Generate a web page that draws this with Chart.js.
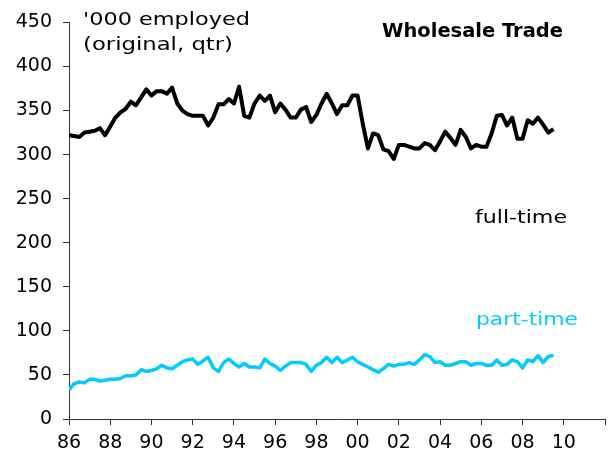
<!DOCTYPE html>
<html>
<head>
<meta charset="utf-8">
<script src="https://cdn.jsdelivr.net/npm/chart.js@4"></script>
<style>
  html, body { margin: 0; padding: 0; background: #fff; }
  #wrap { width: 612px; height: 463px; }
</style>
</head>
<body>
<div id="wrap"><canvas id="grafico" width="612" height="463"></canvas></div>
<script>
// quarterly, starting 1986 Q1
const startYear = 1986;
const fullTime = [322,321,320,325,326,327,330,322,332,342,
  348,352,360,356,365,374,367,372,372,369,
  376,358,350,346,344,344,344,333,342,357,
  357,363,358,377,344,342,358,367,361,367,
  348,358,351,342,342,351,354,337,345,358,
  369,358,346,356,356,367,367,335,307,324,
  322,306,304,295,311,311,309,307,307,313,
  311,305,315,326,319,311,328,320,307,311,
  309,309,324,344,345,333,342,318,318,339,
  335,342,334,325,329];
const partTime = [33,40,42,41,45,45,43,44,45,45,
  46,49,49,50,56,54,55,57,61,58,
  57,61,65,67,68,62,66,70,58,54,
  64,68,63,59,63,59,59,58,68,63,
  60,55,60,64,64,64,62,54,61,64,
  70,64,70,64,67,70,65,62,59,56,
  53,57,62,60,62,62,64,62,67,73,
  71,64,65,61,61,63,65,65,61,63,
  63,61,61,67,61,62,67,65,58,67,
  65,72,64,71,72];
const yTicks = [0,50,100,150,200,250,300,350,400,450];
const xTickYears = [1986,1988,1990,1992,1994,1996,1998,2000,2002,2004,2006,2008,2010,2012];

const FUENTE = 'DejaVu Sans, Verdana, sans-serif';

function puntos(serie) {
  return serie.map((v, i) => ({ x: startYear + i / 4, y: v }));
}

// texto estirado a un ancho dado (el original usa una letra mas ancha)
function texto(ctx, str, x, y, ancho, font, color) {
  ctx.save();
  ctx.font = font;
  ctx.fillStyle = color;
  ctx.textAlign = 'left';
  ctx.textBaseline = 'alphabetic';
  const m = ctx.measureText(str).width;
  ctx.translate(x, y);
  ctx.scale(ancho / m, 1);
  ctx.fillText(str, 0, 0);
  ctx.restore();
}

const textos = {
  id: 'textos',
  afterDraw(chart) {
    const ctx = chart.ctx;
    texto(ctx, "'000 employed", 83, 25, 167, '18px ' + FUENTE, '#000');
    texto(ctx, '(original, qtr)', 83, 50, 150, '18px ' + FUENTE, '#000');
    texto(ctx, 'Wholesale Trade', 382, 37, 181, 'bold 19px ' + FUENTE, '#000');
    texto(ctx, 'full-time', 475, 223, 92, '18px ' + FUENTE, '#000');
    texto(ctx, 'part-time', 476, 325, 102, '18px ' + FUENTE, '#00CCFF');
  }
};

new Chart(document.getElementById('grafico').getContext('2d'), {
  type: 'line',
  data: {
    datasets: [
      { label: 'full-time', data: puntos(fullTime), borderColor: '#000', borderWidth: 4,
        pointRadius: 0, tension: 0, borderJoinStyle: 'round' },
      { label: 'part-time', data: puntos(partTime), borderColor: '#00CCFF', borderWidth: 3.5,
        pointRadius: 0, tension: 0, borderJoinStyle: 'round' }
    ]
  },
  options: {
    responsive: false,
    animation: false,
    layout: { padding: { top: 20, right: 6, left: 0, bottom: 0 } },
    plugins: { legend: { display: false }, tooltip: { enabled: false } },
    scales: {
      x: {
        type: 'linear', min: 1986, max: 2012,
        afterBuildTicks: s => { s.ticks = xTickYears.map(v => ({ value: v })); },
        afterFit: s => { s.height = 44; },
        ticks: {
          color: '#000', font: { family: FUENTE, size: 19 }, padding: 7, maxRotation: 0,
          autoSkip: false,
          callback: v => v === 2012 ? '' : String(v % 100).padStart(2, '0')
        },
        grid: { display: true, drawOnChartArea: false, drawTicks: true, tickLength: 6, color: '#333' },
        border: { color: '#333', width: 1 }
      },
      y: {
        min: 0, max: 450,
        afterBuildTicks: s => { s.ticks = yTicks.map(v => ({ value: v })); },
        afterFit: s => { s.width = 69; },
        ticks: { color: '#000', font: { family: FUENTE, size: 19 }, padding: 11 },
        grid: { display: true, drawOnChartArea: false, drawTicks: true, tickLength: 6, color: '#333' },
        border: { color: '#333', width: 1 }
      }
    }
  },
  plugins: [textos]
});
</script>
</body>
</html>
